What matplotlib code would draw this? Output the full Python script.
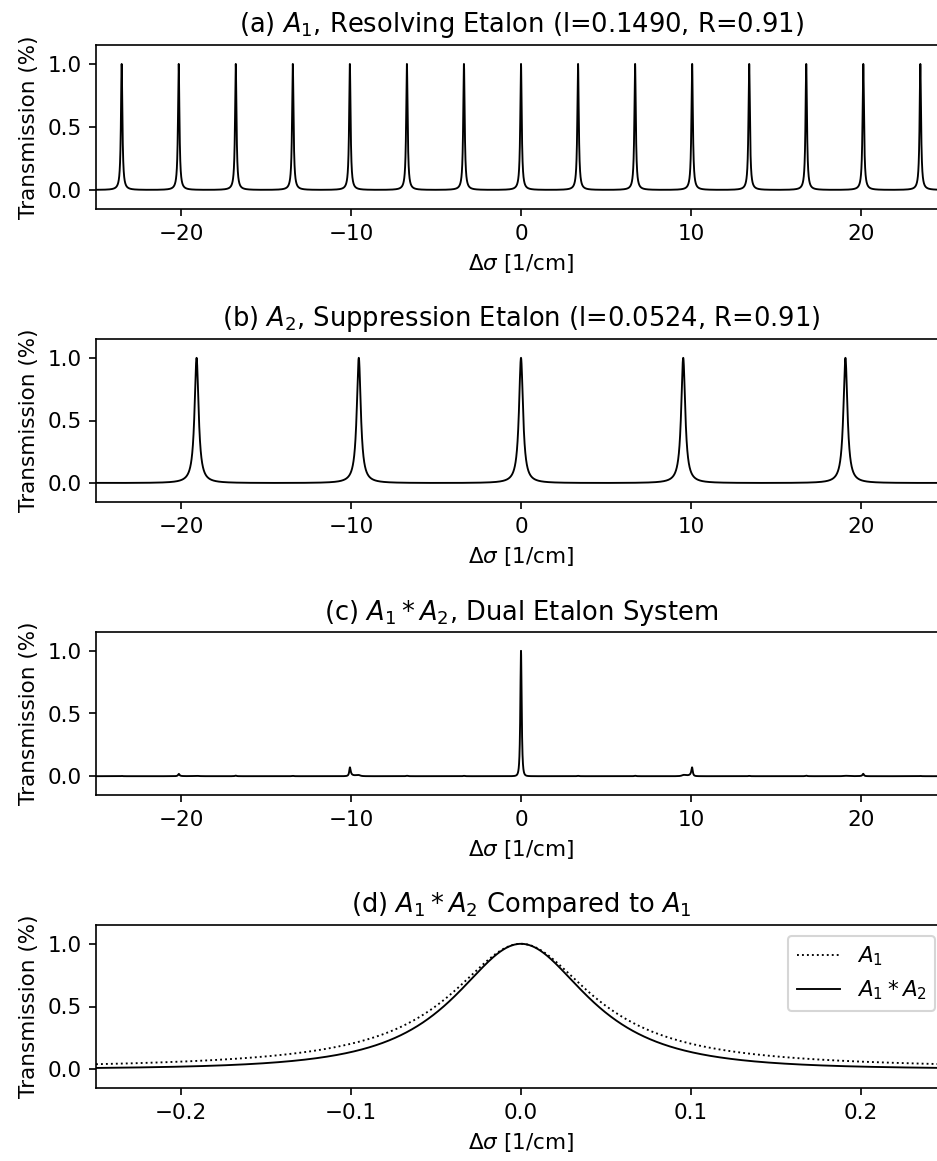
#!/usr/bin/env python3
"""Dual etalon transmission: resolving, suppression, product and close-up."""

import numpy as np
import matplotlib

matplotlib.use("Agg")
import matplotlib.pyplot as plt

# etalon parameters as printed in the panel titles
resolving_thickness = 0.1490   # cm
suppression_thickness = 0.0524  # cm
reflectivity = 0.91

wide_range = (-25.0, 25.0)     # 1/cm, panels a-c
narrow_range = (-0.25, 0.25)   # 1/cm, panel d
wide_ticks = [-20, -10, 0, 10, 20]
narrow_ticks = [-0.2, -0.1, 0.0, 0.1, 0.2]
y_ticks = [0.0, 0.5, 1.0]

titles = [
    r"(a) $A_1$, Resolving Etalon (l=0.1490, R=0.91)",
    r"(b) $A_2$, Suppression Etalon (l=0.0524, R=0.91)",
    r"(c) $A_1*A_2$, Dual Etalon System",
    r"(d) $A_1*A_2$ Compared to $A_1$",
]


def airy(sigma, thickness, refl):
    coef = 4 * refl / (1 - refl) ** 2
    return 1.0 / (1.0 + coef * np.sin(2 * np.pi * sigma * thickness) ** 2)


sigma_wide = np.linspace(*wide_range, 40001)
sigma_narrow = np.linspace(*narrow_range, 2001)
a1 = airy(sigma_wide, resolving_thickness, reflectivity)
a2 = airy(sigma_wide, suppression_thickness, reflectivity)
a1_near = airy(sigma_narrow, resolving_thickness, reflectivity)
a2_near = airy(sigma_narrow, suppression_thickness, reflectivity)

plt.rcParams["font.size"] = 10.3

W, H = 937, 1161
fig = plt.figure(figsize=(W / 150, H / 150), dpi=150)
# right edge of the axes runs a little past the image edge, as in the original crop
frames = [(45, 209), (339, 502), (632, 795), (925, 1088)]
axes = []
for top, bottom in frames:
    ax = fig.add_axes([96 / W, 1 - bottom / H, 850 / W, (bottom - top) / H])
    axes.append(ax)

lw = 0.9
axes[0].plot(sigma_wide, a1, color="black", linewidth=lw)
axes[1].plot(sigma_wide, a2, color="black", linewidth=lw)
axes[2].plot(sigma_wide, a1 * a2, color="black", linewidth=lw)
axes[3].plot(sigma_narrow, a1_near, color="black", linewidth=lw, linestyle=":", label=r"$A_1$")
axes[3].plot(sigma_narrow, a1_near * a2_near, color="black", linewidth=lw, label=r"$A_1*A_2$")
axes[3].legend(loc="upper right")

for i, ax in enumerate(axes):
    ax.set_title(titles[i])
    ax.set_ylabel("Transmission (%)")
    ax.set_xlabel(r"$\Delta\sigma$ [1/cm]")
    ax.set_ylim(-0.15, 1.15)
    ax.set_yticks(y_ticks)
    if i < 3:
        ax.set_xlim(*wide_range)
        ax.set_xticks(wide_ticks)
    else:
        ax.set_xlim(*narrow_range)
        ax.set_xticks(narrow_ticks)

fig.savefig("out.png", dpi=150)
